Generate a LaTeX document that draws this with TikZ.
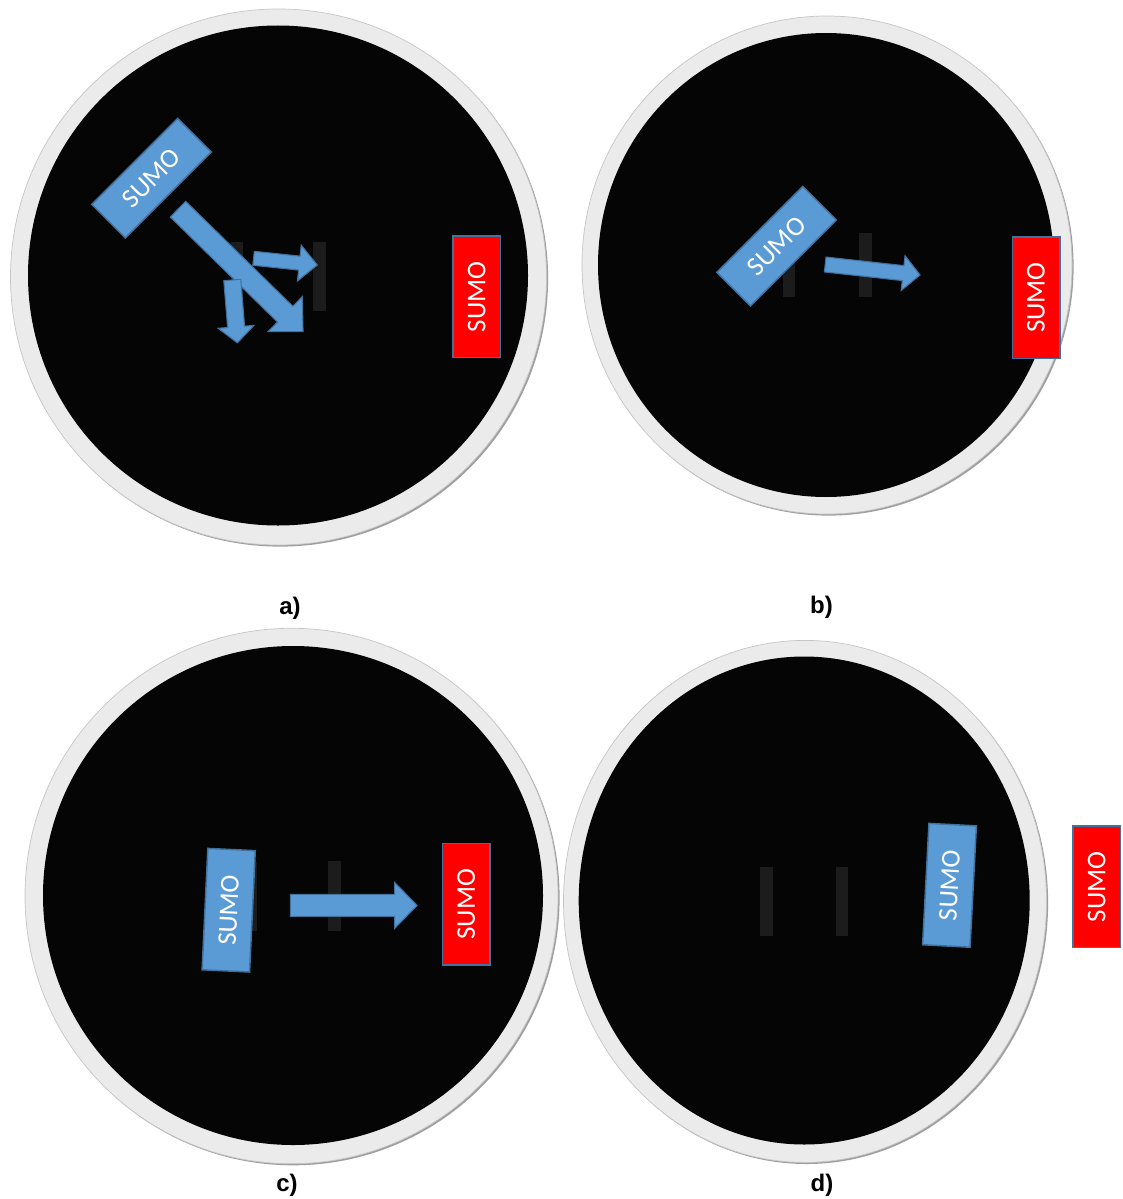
\documentclass[tikz,border=0pt]{standalone}
\usepackage{fontspec}
\setmainfont{Liberation Sans}
\newfontfamily\calib{Carlito}
\definecolor{sblue}{HTML}{5B9BD5}
\definecolor{sborder}{HTML}{41719C}
\definecolor{ringc}{HTML}{EBEBEB}
\definecolor{barc}{HTML}{1C1C1C}
\definecolor{matc}{HTML}{050505}
\tikzset{
  bluebot/.style={draw=sborder, fill=sblue, line width=1.5pt, minimum width=121.5pt,
    minimum height=47.5pt, inner sep=0pt, text=white, font=\calib\fontsize{27}{30}\selectfont},
  redbot/.style={bluebot, fill=red},
  ringfill/.style={fill=ringc, draw=gray!45, line width=0.7pt},
  shadowfill/.style={fill=gray!75},
  matfill/.style={fill=matc},
  barfill/.style={fill=barc},
  arrowfill/.style={fill=sblue, draw=sborder, line width=1.1pt, line join=miter},
  lab/.style={font=\bfseries\fontsize{24}{28}\selectfont, inner sep=0pt}
}
% tail x, tail y, angle, length, shaft width, head length, head width
\newcommand{\blockarr}[7]{%
  \begin{scope}[shift={(#1,#2)},rotate=#3]
    \filldraw[arrowfill] (0,{-#5/2}) -- ({#4-#6},{-#5/2}) -- ({#4-#6},{-#7/2}) -- (#4,0)
      -- ({#4-#6},{#7/2}) -- ({#4-#6},{#5/2}) -- (0,{#5/2}) -- cycle;
  \end{scope}}
\newcommand{\arena}[8]{% outer cx,cy,rx,ry ; inner cx,cy,rx,ry
  \fill[shadowfill] ({#1+1.6},{#2+1.6}) ellipse [x radius=#3pt, y radius=#4pt];
  \filldraw[ringfill] (#1,#2) ellipse [x radius=#3pt, y radius=#4pt];
  \fill[matfill] (#5,#6) ellipse [x radius=#7pt, y radius=#8pt];}
\begin{document}
\begin{tikzpicture}[x=1pt,y=-1pt]
\useasboundingbox[fill=white] (0,0) rectangle (1123,1199);

% ---------- a) ----------
\arena{278.5}{277}{268}{268}{278}{275.5}{250}{250}
\fill[barfill] (231,242) rectangle (243,311);
\fill[barfill] (312.5,242) rectangle (326,311);
\blockarr{178}{209.2}{-44.4}{175}{22}{25}{49}
\blockarr{253.6}{258.3}{-6}{64}{14}{18}{36}
\blockarr{232.3}{280}{-85.4}{63}{17}{16}{36}
\node[bluebot, rotate=45] (ba) at (151.5,178.2) {SUMO};
\node[redbot, rotate=90] (ra) at (476.8,296.8) {SUMO};
\node[lab] (la) at (290,608) {a)};

% ---------- b) ----------
\arena{827}{265}{245}{249}{826}{265}{228}{232}
\fill[barfill] (782.5,233) rectangle (795,297);
\fill[barfill] (859,233) rectangle (871.5,297);
\node[bluebot, rotate=45] (bb) at (776.6,246.2) {SUMO};
\blockarr{825.2}{264.5}{-6.3}{95.4}{15}{17}{35}
\node[redbot, rotate=90] (rb) at (1036,297.5) {SUMO};
\node[lab] (lb) at (821.5,607) {b)};

% ---------- c) ----------
\arena{291.5}{896}{266.5}{267.7}{293}{895.5}{250}{249.5}
\fill[barfill] (244,862) rectangle (257,930.5);
\fill[barfill] (327.5,861) rectangle (341,930.5);
\node[bluebot, rotate=87.3] (bc) at (228.7,910.2) {SUMO};
\blockarr{290.4}{905.4}{0}{126.7}{22}{22.5}{46}
\node[redbot, rotate=90] (rc) at (466.1,904.3) {SUMO};
\node[lab] (lc) at (287,1185) {c)};

% ---------- d) ----------
\arena{805}{901.4}{241.5}{261}{804.2}{900.5}{225.5}{244}
\fill[barfill] (760.4,867.2) rectangle (773,935.5);
\fill[barfill] (835.8,867.2) rectangle (848.3,935.5);
\node[bluebot, rotate=87] (bd) at (949.5,885.3) {SUMO};
\node[redbot, rotate=90] (rd) at (1096.6,886.8) {SUMO};
\node[lab] (ld) at (822,1185) {d)};
\end{tikzpicture}
\end{document}
